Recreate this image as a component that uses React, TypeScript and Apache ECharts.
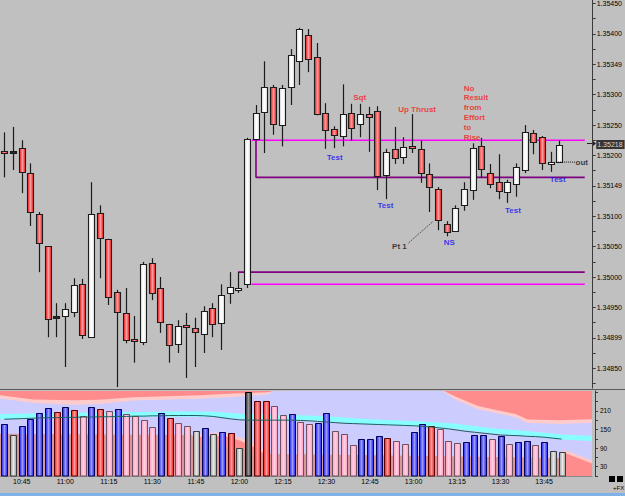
import React, { useEffect, useRef } from 'react';
import * as echarts from 'echarts';

// ---------- data ----------
const FIRST_BAR_TIME = '10:39';
const BAR_STEP_MINUTES = 3;
const SPARE_SLOTS = 3;

const OPEN = [1.35207, 1.35207, 1.35212, 1.35171, 1.35104, 1.35051, 1.34936, 1.34936, 1.34942, 1.34988,
  1.34901, 1.35105, 1.35063, 1.34975, 1.34941, 1.34898, 1.34893, 1.35023, 1.34982, 1.34923,
  1.34890, 1.34921, 1.34916, 1.34906, 1.34949, 1.34924, 1.34974, 1.34979, 1.34988, 1.35227,
  1.35271, 1.35312, 1.35250, 1.35312, 1.35355, 1.35398, 1.35362, 1.35270, 1.35243, 1.35232,
  1.35270, 1.35252, 1.35268, 1.35273, 1.35168, 1.35211, 1.35197, 1.35215, 1.35211, 1.35169,
  1.35145, 1.35087, 1.35076, 1.35118, 1.35143, 1.35215, 1.35171, 1.35156, 1.35140, 1.35153,
  1.35176, 1.35237, 1.35230, 1.35186, 1.35189];
const CLOSE = [1.35204, 1.35207, 1.35173, 1.35107, 1.35056, 1.34931, 1.34936, 1.34947, 1.34987, 1.34905,
  1.35104, 1.35064, 1.34967, 1.34942, 1.34896, 1.34896, 1.35021, 1.34974, 1.34926, 1.34888,
  1.34919, 1.34918, 1.34910, 1.34944, 1.34923, 1.34970, 1.34984, 1.34982, 1.35227, 1.35270,
  1.35312, 1.35252, 1.35311, 1.35365, 1.35408, 1.35359, 1.35268, 1.35242, 1.35234, 1.35268,
  1.35245, 1.35268, 1.35263, 1.35166, 1.35206, 1.35196, 1.35214, 1.35212, 1.35171, 1.35148,
  1.35094, 1.35074, 1.35113, 1.35145, 1.35212, 1.35178, 1.35153, 1.35141, 1.35156, 1.35181,
  1.35238, 1.35222, 1.35187, 1.35189, 1.35218];
const LOW = [1.35164, 1.35176, 1.35138, 1.35084, 1.35008, 1.34901, 1.34901, 1.34852, 1.34934, 1.34898,
  1.34900, 1.34998, 1.34954, 1.34819, 1.34891, 1.34859, 1.34888, 1.34962, 1.34908, 1.34859,
  1.34875, 1.34834, 1.34852, 1.34875, 1.34901, 1.34880, 1.34956, 1.34974, 1.34982, 1.35225,
  1.35204, 1.35234, 1.35215, 1.35283, 1.35316, 1.35337, 1.35266, 1.35211, 1.35212, 1.35215,
  1.35224, 1.35230, 1.35206, 1.35143, 1.35128, 1.35186, 1.35186, 1.35204, 1.35155, 1.35107,
  1.35077, 1.35067, 1.35074, 1.35109, 1.35127, 1.35164, 1.35146, 1.35128, 1.35122, 1.35132,
  1.35171, 1.35202, 1.35176, 1.35173, 1.35189];
const HIGH = [1.35238, 1.35247, 1.35225, 1.35187, 1.35107, 1.35051, 1.34957, 1.34957, 1.34998, 1.34997,
  1.35156, 1.35118, 1.35063, 1.34979, 1.34982, 1.34936, 1.35025, 1.35031, 1.35000, 1.34923,
  1.34929, 1.34941, 1.34933, 1.34952, 1.34957, 1.34988, 1.35008, 1.35008, 1.35229, 1.35283,
  1.35355, 1.35316, 1.35316, 1.35375, 1.35410, 1.35408, 1.35385, 1.35286, 1.35248, 1.35317,
  1.35285, 1.35285, 1.35280, 1.35281, 1.35211, 1.35247, 1.35230, 1.35268, 1.35225, 1.35187,
  1.35148, 1.35092, 1.35118, 1.35156, 1.35220, 1.35229, 1.35186, 1.35202, 1.35160, 1.35187,
  1.35250, 1.35242, 1.35232, 1.35206, 1.35225];

const VOLUME = [167, 133, 162, 183, 204, 219, 206, 223, 213, 195,
  222, 216, 210, 216, 199, 192, 181, 158, 203, 186,
  171, 162, 146, 156, 135, 142, 138, 91, 271, 242,
  242, 226, 197, 199, 175, 168, 171, 204, 146, 136,
  101, 118, 120, 130, 122, 113, 103, 141, 167, 160,
  153, 113, 106, 110, 133, 133, 119, 129, 102, 109,
  113, 101, 109, 80, 77];
// b = blue, r = red, p = pink, g = grey, k = black
const VOLUME_KIND = ['b', 'g', 'b', 'b', 'b', 'b', 'r', 'b', 'r', 'p',
  'b', 'r', 'p', 'b', 'p', 'p', 'p', 'p', 'b', 'r',
  'p', 'p', 'g', 'b', 'g', 'b', 'r', 'g', 'k', 'r',
  'r', 'p', 'p', 'b', 'p', 'p', 'b', 'b', 'p', 'p',
  'p', 'b', 'b', 'b', 'r', 'p', 'p', 'b', 'b', 'r',
  'p', 'p', 'p', 'b', 'b', 'b', 'p', 'b', 'p', 'b',
  'b', 'p', 'b', 'g', 'g'];
const VOLUME_AVERAGE = [183, 184, 185, 186, 187, 188, 188, 189, 189, 190, 190, 191,
  191, 192, 192, 193, 193, 194, 194, 195, 195, 195, 195, 194,
  192, 188, 184, 181, 180, 180, 180, 180, 180, 180, 179, 178,
  176, 174, 172, 170, 169, 168, 167, 166, 165, 164, 163, 162,
  160, 158, 155, 152, 148, 144, 141, 138, 135, 132, 131, 130,
  128, 127, 125, 122, 119];

// volume-panel bands as [bar position, volume level]
const TOP_RED_BAND = [[-0.5, 260], [3.3, 247], [8, 244], [10.9, 246], [14.8, 254], [22.5, 260], [26.3, 266], [30.2, 270], [30.9, 274],
  [50.5, 274], [51.8, 256], [54.4, 226], [57.3, 208], [58.7, 200], [60.1, 182], [63.8, 180], [67.5, 183]];
const TOP_PINK_BAND = [[-0.5, 250], [3.3, 235], [8, 230], [10.9, 232], [14.8, 243], [22.5, 249], [26.3, 255], [30.2, 263], [30.9, 274],
  [50.3, 274], [51.8, 247], [54.4, 215], [57.3, 198], [58.7, 190], [60.1, 171], [63.8, 168], [67.5, 172]];
const LOW_RED_BAND = [[-0.5, 120], [21.5, 120], [23.2, 129], [25.3, 129], [27.1, 114], [28.8, 92], [30.5, 60], [63.9, 50], [64.3, 75], [67.5, 40]];
const LOW_PINK_BAND = [[-0.5, 130], [21.5, 130], [23.2, 139], [25.3, 139], [27.1, 124], [28.8, 102], [30.5, 70], [63.9, 60], [64.3, 85], [67.5, 50]];
const LOW_SHADE = [[-0.5, 136], [21.5, 132], [22.6, 100], [27.5, 90], [29.4, 72], [45, 66], [63.9, 58], [64.0, 0], [67.5, 0]];
const CYAN_BAND = [[-0.5, 191], [5, 195], [10, 197], [20, 200], [24, 199], [27, 193], [30, 190], [36, 186], [42, 175], [48, 168], [52, 160], [56, 146], [60, 137], [64, 126], [67.5, 121]];

const PRICE_TICKS = [1.3485, 1.349, 1.3495, 1.35, 1.3505, 1.351, 1.3515, 1.352, 1.3525, 1.353, 1.3535, 1.354, 1.3545];
const PRICE_TICK_LABELS = ['1.34850', '1.34899', '1.34950', '1.35000', '1.35050', '1.35100', '1.35149', '1.35200', '1.35250', '1.35300', '1.35349', '1.35400', '1.35450'];
const VOLUME_TICKS = [30, 90, 150, 210];
const VOLUME_TICK_LABELS = ['30', '90', '150', '210'];
const LAST_PRICE = 1.35218;
const LAST_PRICE_LABEL = '1.35218';
const LAST_PRICE_SLOT = 68.2;

// horizontal levels: price, start position
const LEVEL_PRICE = [1.35225, 1.35164, 1.35008, 1.34988];
const LEVEL_START = [28.56, 29.02, 26.95, 28.5];
const LEVEL_END = 66.93;

// annotations
const NOTE_TEXT = ['Test', 'Sqt', 'Up Thrust', 'Test', 'Pt 1', 'NS', 'Test', 'Test', 'out'];
const NOTE_X = [38.09, 40.97, 47.6, 43.95, 45.56, 51.3, 58.65, 63.82, 66.58];
const NOTE_PRICE = [1.351974, 1.352961, 1.352763, 1.351184, 1.35051, 1.350576, 1.351102, 1.351612, 1.351891];
const NOTE_KIND = ['blue', 'red', 'red', 'blue', 'black', 'blue', 'blue', 'blue', 'black'];
const LONG_NOTE = ['No', 'Result', 'from', 'Effort', 'to', 'Rise'];
const LONG_NOTE_X = 52.91;
const LONG_NOTE_PRICE = 1.352706;
const PT1_LINE = [[46.6, 1.35056], [49.47, 1.35092]];
const OUT_LINE = [[63.6, 1.351891], [65.9, 1.351891]];

// ---------- layout ----------
const PRICE_MIN = 1.3481743;
const PRICE_MAX = 1.3545559;
const VOLUME_MAX = 274;
const FONT = "'Liberation Sans', Arial, sans-serif";

function buildTimes(): string[] {
  const [h0, m0] = FIRST_BAR_TIME.split(':').map(Number);
  const out: string[] = [];
  for (let i = 0; i < VOLUME.length + SPARE_SLOTS; i++) {
    const t = h0 * 60 + m0 + i * BAR_STEP_MINUTES;
    out.push(`${Math.floor(t / 60)}:${String(t % 60).padStart(2, '0')}`);
  }
  return out;
}

const G = (a: string, b: string) =>
  new echarts.graphic.LinearGradient(0, 0, 1, 0, [
    { offset: 0, color: a }, { offset: 0.5, color: b }, { offset: 1, color: a },
  ]);

const VOL_STYLE: Record<string, { fill: any; stroke: string }> = {
  b: { fill: G('#1c1cee', '#9a9aff'), stroke: '#00005a' },
  r: { fill: G('#f01a1a', '#ff9a9a'), stroke: '#5a0000' },
  p: { fill: G('#ff9cc0', '#ffd0e2'), stroke: '#6e5060' },
  g: { fill: G('#a0a0a0', '#e8e8e8'), stroke: '#3c3c3c' },
  k: { fill: G('#262626', '#959595'), stroke: '#000000' },
};

function buildOption(): any {
  const times = buildTimes();
  const candleData = OPEN.map((o, i) => [i, o, CLOSE[i], LOW[i], HIGH[i]]);
  const volumeData = VOLUME.map((v, i) => [i, v, i]);
  const redBody = G('#ee1818', '#ff9a9a');
  const whiteBody = G('#e4e4e4', '#ffffff');

  const priceTickValues: number[] = [];
  for (let k = 0; k < PRICE_TICKS.length; k++) {
    priceTickValues.push(PRICE_TICKS[k]);
    priceTickValues.push(PRICE_TICKS[k] - 0.00025);
  }
  const volumeTickValues: number[] = [];
  for (let v = 0; v <= 270; v += 30) volumeTickValues.push(v);

  const area = (data: number[][], color: string, origin: string) => ({
    type: 'line', xAxisIndex: 1, yAxisIndex: 1, data, symbol: 'none', silent: true,
    lineStyle: { width: 0 }, areaStyle: { color, opacity: 1, origin }, z: 1,
  });

  const levelLine = (data: number[][], color: string) => ({
    type: 'line', xAxisIndex: 0, yAxisIndex: 0, data, symbol: 'none', silent: true,
    lineStyle: { color, width: 1.6 }, z: 3,
  });

  const noteColor: Record<string, string> = { blue: '#1010f4', red: '#f41a1a', black: '#111111' };

  return {
    animation: false,
    backgroundColor: '#c0c0c0',
    textStyle: { fontFamily: FONT },
    grid: [
      { left: 0, top: 0, width: 592, height: 388 },
      { left: 0, top: 391, width: 592, height: 85, show: true, backgroundColor: '#ccccff', borderWidth: 0 },
    ],
    xAxis: [
      { type: 'value', gridIndex: 0, min: -0.5, max: 67.5, show: false, axisLine: { onZero: false } },
      { type: 'value', gridIndex: 1, min: -0.5, max: 67.5, show: false, axisLine: { onZero: false } },
      {
        type: 'category', gridIndex: 1, data: times, position: 'bottom',
        axisLine: { show: true, onZero: false, lineStyle: { color: '#8a8a8a', width: 1 } },
        axisTick: { show: false },
        axisLabel: {
          interval: (idx: number, val: string) => idx < VOLUME.length && Number(val.split(':')[1]) % 15 === 0,
          fontSize: 7, color: '#000', margin: 2, fontFamily: FONT,
        },
        splitLine: { show: false },
      },
    ],
    yAxis: [
      {
        type: 'value', gridIndex: 0, position: 'right', offset: 3, min: PRICE_MIN, max: PRICE_MAX,
        axisLine: { show: true, onZero: false, lineStyle: { color: '#3a3a3a', width: 1 } },
        axisTick: { show: true, inside: false, length: 3, customValues: priceTickValues, lineStyle: { color: '#3a3a3a' } },
        axisLabel: {
          customValues: PRICE_TICKS, fontSize: 7, color: '#000', margin: 4, fontFamily: FONT,
          formatter: (v: number) => {
            let best = 0;
            for (let k = 1; k < PRICE_TICKS.length; k++) if (Math.abs(PRICE_TICKS[k] - v) < Math.abs(PRICE_TICKS[best] - v)) best = k;
            return PRICE_TICK_LABELS[best];
          },
        },
        splitLine: { show: false },
      },
      {
        type: 'value', gridIndex: 1, position: 'right', offset: 3, min: 0, max: VOLUME_MAX,
        axisLine: { show: true, onZero: false, lineStyle: { color: '#3a3a3a', width: 1 } },
        axisTick: { show: true, inside: false, length: 3, customValues: volumeTickValues, lineStyle: { color: '#3a3a3a' } },
        axisLabel: {
          customValues: VOLUME_TICKS, fontSize: 6.5, color: '#000', margin: 5, fontFamily: FONT,
          formatter: (v: number) => VOLUME_TICK_LABELS[VOLUME_TICKS.indexOf(Math.round(v))] ?? '',
        },
        splitLine: { show: false },
      },
    ],
    series: [
      // ---- volume panel background bands ----
      area(TOP_PINK_BAND, '#ffcccc', 'end'),
      area(TOP_RED_BAND, '#ff8c8c', 'end'),
      area(LOW_PINK_BAND, '#ffc8c8', 'start'),
      area(LOW_RED_BAND, '#ff8c8c', 'start'),
      area(LOW_SHADE, '#d89898', 'start'),
      {
        type: 'line', xAxisIndex: 1, yAxisIndex: 1, data: CYAN_BAND, symbol: 'none', silent: true,
        lineStyle: { color: '#88ffff', width: 5 }, z: 2,
      },
      {
        type: 'custom', xAxisIndex: 1, yAxisIndex: 1, data: volumeData, z: 4, silent: true,
        renderItem: (params: any, api: any) => {
          const i = api.value(0);
          const top = api.coord([i, api.value(1)]);
          const base = api.coord([i, 0]);
          const st = VOL_STYLE[VOLUME_KIND[api.value(2)]];
          const x = Math.round(top[0]);
          return {
            type: 'rect',
            shape: { x: x - 2.5, y: Math.round(top[1]) + 0.5, width: 6, height: base[1] - Math.round(top[1]) - 0.5 },
            style: { fill: st.fill, stroke: st.stroke, lineWidth: 1 },
          };
        },
      },
      {
        type: 'line', xAxisIndex: 1, yAxisIndex: 1, data: VOLUME_AVERAGE.map((v, i) => [i, v]), symbol: 'none', silent: true,
        lineStyle: { color: '#1f5f5f', width: 1 }, z: 5,
      },
      // ---- price panel ----
      levelLine([[LEVEL_START[0], LEVEL_PRICE[0]], [LEVEL_END, LEVEL_PRICE[0]]], '#ff00ff'),
      levelLine([[LEVEL_START[1], LEVEL_PRICE[0]], [LEVEL_START[1], LEVEL_PRICE[1]], [LEVEL_END, LEVEL_PRICE[1]]], '#800080'),
      levelLine([[LEVEL_START[2], LEVEL_PRICE[2]], [LEVEL_END, LEVEL_PRICE[2]]], '#800080'),
      levelLine([[LEVEL_START[3], LEVEL_PRICE[3]], [LEVEL_END, LEVEL_PRICE[3]]], '#ff00ff'),
      {
        type: 'custom', xAxisIndex: 0, yAxisIndex: 0, data: candleData, z: 4, silent: true,
        renderItem: (params: any, api: any) => {
          const i = api.value(0);
          const o = api.value(1), c = api.value(2), l = api.value(3), h = api.value(4);
          const pO = api.coord([i, o]);
          const pC = api.coord([i, c]);
          const pL = api.coord([i, l]);
          const pH = api.coord([i, h]);
          const x = Math.round(pO[0]) + 0.5;
          const top = Math.round(Math.min(pO[1], pC[1])) + 0.5;
          let bottom = Math.round(Math.max(pO[1], pC[1])) + 0.5;
          if (bottom - top < 2) bottom = top + 2;
          const fill = c === o ? '#2a2a2a' : c < o ? redBody : whiteBody;
          return {
            type: 'group',
            children: [
              { type: 'line', shape: { x1: x, y1: pH[1], x2: x, y2: pL[1] }, style: { stroke: '#1c1c1c', lineWidth: 1.2 } },
              { type: 'rect', shape: { x: x - 3, y: top, width: 6, height: bottom - top }, style: { fill, stroke: '#1c1c1c', lineWidth: 1.1 } },
            ],
          };
        },
      },
      {
        type: 'line', xAxisIndex: 0, yAxisIndex: 0, data: PT1_LINE, symbol: 'none', silent: true,
        lineStyle: { color: '#3c3c3c', width: 0.8, type: [2, 1] }, z: 5,
      },
      {
        type: 'line', xAxisIndex: 0, yAxisIndex: 0, data: OUT_LINE, symbol: 'none', silent: true,
        lineStyle: { color: '#111111', width: 1, type: [1, 1] }, z: 5,
      },
      {
        type: 'scatter', xAxisIndex: 0, yAxisIndex: 0, symbolSize: 1, silent: true, z: 6, clip: false,
        itemStyle: { color: 'rgba(0,0,0,0)' },
        label: { show: true, position: 'inside', formatter: '{b}', fontSize: 8, fontWeight: 'bold', fontFamily: FONT },
        data: [
          ...NOTE_TEXT.map((t, k) => ({
            name: t, value: [NOTE_X[k], NOTE_PRICE[k]],
            label: { color: noteColor[NOTE_KIND[k]] },
          })),
          {
            name: LONG_NOTE.join('\n'), value: [LONG_NOTE_X, LONG_NOTE_PRICE],
            label: { color: noteColor.red, position: 'right', distance: 0, align: 'left', lineHeight: 9.8 },
          },
          {
            name: LAST_PRICE_LABEL, value: [LAST_PRICE_SLOT, LAST_PRICE],
            label: {
              color: '#ffffff', backgroundColor: '#111111', position: 'right', distance: 0, align: 'left',
              fontSize: 7, fontWeight: 'normal', padding: [1, 2, 1, 1],
            },
          },
        ],
      },
    ],
    graphic: [
      { type: 'line', shape: { x1: 0, y1: 389.5, x2: 625, y2: 389.5 }, style: { stroke: '#5a5a5a', lineWidth: 1 }, silent: true },
      { type: 'polyline', shape: { points: [[587, 143.5], [593, 143.5]] }, style: { stroke: '#222', lineWidth: 1 }, silent: true },
      { type: 'polygon', shape: { points: [[593, 141], [596, 143.5], [593, 146]] }, style: { fill: '#222' }, silent: true },
      { type: 'rect', shape: { x: 609, y: 476, width: 6, height: 6 }, style: { fill: '#000' }, silent: true },
      { type: 'rect', shape: { x: 617, y: 476, width: 6, height: 6 }, style: { fill: '#000' }, silent: true },
      { type: 'text', x: 613, y: 485, style: { text: '+FX', fontSize: 6, fill: '#000', fontFamily: FONT }, silent: true },
      { type: 'rect', shape: { x: 0, y: 493, width: 625, height: 3 }, style: { fill: '#7fb3e8' }, silent: true },
    ],
  };
}

export default function App() {
  const ref = useRef<HTMLDivElement>(null);
  useEffect(() => {
    if (!ref.current) return;
    const chart = echarts.init(ref.current, null, { renderer: 'svg' });
    chart.setOption(buildOption());
    return () => chart.dispose();
  }, []);
  return <div ref={ref} style={{ position: 'fixed', left: 0, top: 0, width: 625, height: 496 }} />;
}
